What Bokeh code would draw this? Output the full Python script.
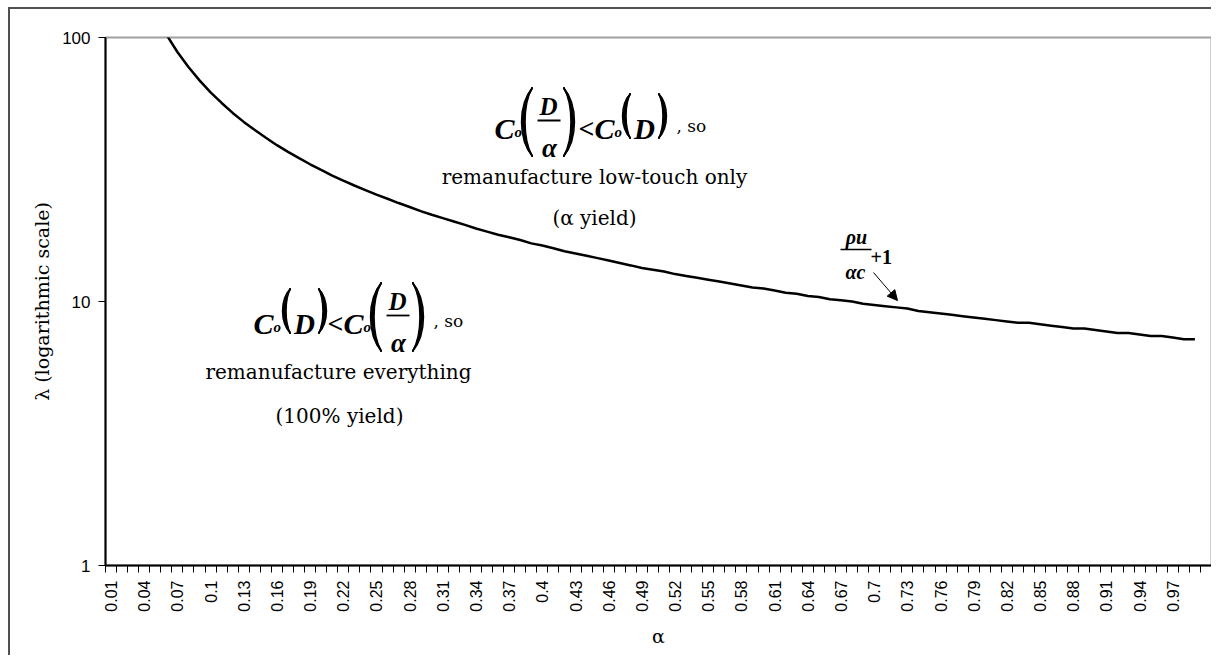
import math
from bokeh.plotting import figure
from bokeh.models import Range1d, FixedTicker, Arrow, NormalHead
from bokeh.core.properties import value
from bokeh.embed import file_html
from bokeh.resources import INLINE

# ---------------- data ----------------
alpha_categories = [f"{i/100:g}" for i in range(1, 101)]   # category axis 0.01 ... 1

tick_labels = ["0.01", "0.04", "0.07", "0.1", "0.13", "0.16", "0.19", "0.22", "0.25",
               "0.28", "0.31", "0.34", "0.37", "0.4", "0.43", "0.46", "0.49", "0.52",
               "0.55", "0.58", "0.61", "0.64", "0.67", "0.7", "0.73", "0.76", "0.79",
               "0.82", "0.85", "0.88", "0.91", "0.94", "0.97"]

# lambda threshold (rho*u/(alpha*c) + 1) for alpha = 0.01 ... 0.99
lam = [611, 306, 204.3, 153.5, 123, 102.7, 88.1, 77.3, 68.8, 62.0,
       56.5, 51.8, 47.9, 44.6, 41.7, 39.1, 36.9, 34.9, 33.1, 31.5,
       30.0, 28.7, 27.5, 26.4, 25.4, 24.5, 23.6, 22.8, 22.0, 21.3,
       20.7, 20.1, 19.5, 18.9, 18.4, 17.9, 17.5, 17.1, 16.6, 16.3,
       15.9, 15.5, 15.2, 14.9, 14.6, 14.3, 14.0, 13.7, 13.4, 13.2,
       13.0, 12.7, 12.5, 12.3, 12.1, 11.9, 11.7, 11.5, 11.3, 11.2,
       11.0, 10.8, 10.7, 10.5, 10.4, 10.2, 10.1, 10.0, 9.8, 9.7,
       9.6, 9.5, 9.4, 9.2, 9.1, 9.0, 8.9, 8.8, 8.7, 8.6,
       8.5, 8.4, 8.3, 8.3, 8.2, 8.1, 8.0, 7.9, 7.9, 7.8,
       7.7, 7.6, 7.6, 7.5, 7.4, 7.4, 7.3, 7.2, 7.2]

y_ticks = [1, 10, 100]

# ---------------- figure ----------------
pos = {c: i + 0.5 for i, c in enumerate(alpha_categories)}
n_cat = len(alpha_categories)

p = figure(width=1203, height=648,
           x_range=Range1d(0, n_cat), y_range=Range1d(1, 100),
           y_axis_type="log", output_backend="svg", toolbar_location=None,
           min_border_left=95, min_border_top=28, min_border_right=2, min_border_bottom=92)
p.styles = {"border-top": "2px solid #505050", "border-left": "2px solid #505050",
            "margin-left": "8px", "margin-top": "7px"}
p.background_fill_color = "white"
p.border_fill_color = "white"
p.xgrid.visible = False
p.ygrid.visible = False
p.outline_line_color = "#a0a0a0"
p.outline_line_width = 2

xs = [pos[c] for c in alpha_categories[:len(lam)]]
p.line(xs, lam, line_color="black", line_width=2.5)

# x axis
xa = p.xaxis[0]
xa.ticker = FixedTicker(ticks=[pos[t] for t in tick_labels],
                        minor_ticks=[i for i in range(n_cat + 1)])
xa.major_label_overrides = {pos[t]: t for t in tick_labels}
xa.major_label_orientation = math.pi / 2
xa.major_tick_out = 0
xa.major_tick_in = 0
xa.minor_tick_out = 7
xa.minor_tick_in = 0
xa.minor_tick_line_color = "black"
xa.axis_line_color = "black"
xa.axis_line_width = 2
xa.major_label_standoff = 8
xa.major_label_text_font = "Liberation Sans"
xa.major_label_text_font_size = "16px"
xa.major_label_text_color = "black"
xa.axis_label = "α"
xa.axis_label_text_font = "DejaVu Serif"
xa.axis_label_text_font_style = "normal"
xa.axis_label_text_font_size = "19px"
xa.axis_label_text_color = "black"
xa.axis_label_standoff = 10

# y axis
ya = p.yaxis[0]
ya.ticker = FixedTicker(ticks=y_ticks, minor_ticks=[])
ya.major_label_overrides = {t: str(t) for t in y_ticks}
ya.major_tick_out = 7
ya.major_tick_in = 0
ya.minor_tick_out = 0
ya.minor_tick_in = 0
ya.axis_line_color = "black"
ya.axis_line_width = 2
ya.major_label_standoff = 8
ya.major_label_text_font = "Liberation Sans"
ya.major_label_text_font_size = "17px"
ya.major_label_text_color = "black"
ya.axis_label = "λ (logarithmic scale)"
ya.axis_label_text_font = "DejaVu Serif"
ya.axis_label_text_font_style = "normal"
ya.axis_label_text_font_size = "19px"
ya.axis_label_text_color = "black"
ya.axis_label_standoff = 6

# ---------------- annotation helpers (screen pixel -> data) ----------------
FX0, FX1, FY0, FY1 = 105, 1211, 37, 565


def dx(px):
    return (px - FX0) / (FX1 - FX0) * n_cat


def dy(py):
    return 10 ** (2 * (FY1 - py) / (FY1 - FY0))


def txt(px, py, s, size, style="bold italic", font="Liberation Serif", align="left"):
    p.text(x=[dx(px)], y=[dy(py)], text=[s], text_font=value(font),
           text_font_size=f"{size}px", text_font_style=style, text_align=align,
           text_baseline="alphabetic", text_color="black")


def bar(px0, px1, py, w=1.8):
    p.segment(x0=[dx(px0)], y0=[dy(py)], x1=[dx(px1)], y1=[dy(py)],
              line_color="black", line_width=w)


def paren(px_end, top, bot, depth, left=True):
    h = bot - top
    for k in range(5):
        d = (depth - k * 0.9) / 0.75
        cx = px_end - d if left else px_end + d
        p.bezier(x0=[dx(px_end)], y0=[dy(top)], x1=[dx(px_end)], y1=[dy(bot)],
                 cx0=[dx(cx)], cy0=[dy(top + 0.25 * h)],
                 cx1=[dx(cx)], cy1=[dy(top + 0.75 * h)],
                 line_color="black", line_width=1.4)


def C_o(px, b):
    txt(px - 1, b, "C", 30)
    txt(px + 19, b + 3, "o", 15)


def small_D(px_open, b):
    paren(px_open + 10, b - 35, b + 10, 8, left=True)
    txt(px_open + 24, b, "D", 29, align="center")
    paren(px_open + 38, b - 35, b + 10, 8, left=False)


def frac_D_alpha(px_open, b):
    paren(px_open + 12, b - 41, b + 28, 11, left=True)
    txt(px_open + 28, b - 22, "D", 25, align="center")
    bar(px_open + 17, px_open + 40, b - 8)
    txt(px_open + 29, b + 19, "α", 27, align="center")
    paren(px_open + 43, b - 41, b + 28, 11, left=False)


# upper region annotation
b1 = 128
C_o(495, b1)
frac_D_alpha(520, b1)
txt(586, b1, "<", 28, style="bold", align="center")
C_o(595, b1)
small_D(620, b1)
txt(676, b1 - 3, ", so", 17, style="normal", font="DejaVu Serif")
txt(594, 176, "remanufacture low-touch only", 20, style="normal", font="DejaVu Serif", align="center")
txt(594, 217, "(α yield)", 20, style="normal", font="DejaVu Serif", align="center")

# lower region annotation
b2 = 323
C_o(254, b2)
small_D(280, b2)
txt(335, b2, "<", 28, style="bold", align="center")
C_o(344, b2)
frac_D_alpha(369, b2)
txt(433, b2 - 3, ", so", 17, style="normal", font="DejaVu Serif")
txt(338, 371, "remanufacture everything", 20, style="normal", font="DejaVu Serif", align="center")
txt(339, 415, "(100% yield)", 20, style="normal", font="DejaVu Serif", align="center")

# curve label
txt(856, 236, "ρu", 20, align="center")
bar(840, 871, 249, 1.5)
txt(855, 271, "αc", 20, align="center")
txt(870, 256, "+1", 20, style="bold")
p.add_layout(Arrow(x_start=dx(873), y_start=dy(272), x_end=dx(897), y_end=dy(300),
                   line_color="black", line_width=1,
                   end=NormalHead(size=10, fill_color="black", line_color="black")))

open("out.html", "w").write(file_html(p, INLINE))
